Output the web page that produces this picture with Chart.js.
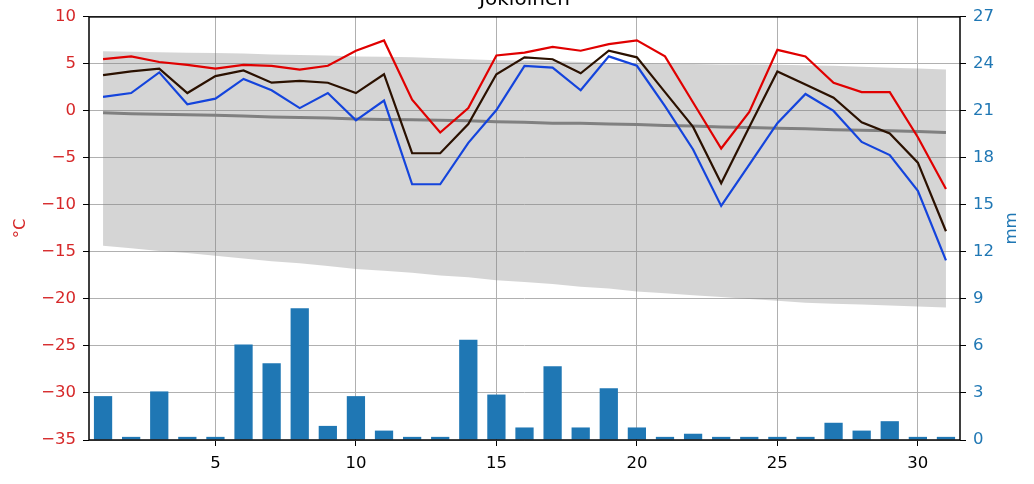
<!DOCTYPE html>
<html>
<head>
<meta charset="utf-8">
<script src="https://cdn.jsdelivr.net/npm/chart.js@4"></script>
<style>
  body { margin: 0; background: #fff; }
  canvas { display: block; }
</style>
</head>
<body>
<canvas id="weatherChart" width="1034" height="484"></canvas>
<script>
(function () {
    "use strict";

    var days = [];
    for (var d = 1; d <= 31; d++) days.push(d);
    var dayTicks = [5, 10, 15, 20, 25, 30];

    // temperatures, °C
    var tMax = [5.5, 5.8, 5.2, 4.9, 4.5, 4.9, 4.8, 4.4, 4.8, 6.4, 7.5, 1.2, -2.3, 0.3, 5.9, 6.2,
        6.8, 6.4, 7.1, 7.5, 5.8, 0.9, -4.0, -0.1, 6.5, 5.8, 3.0, 2.0, 2.0, -2.8, -8.3];
    var tMean = [3.8, 4.2, 4.5, 1.9, 3.7, 4.3, 3.0, 3.2, 3.0, 1.9, 3.9, -4.5, -4.5, -1.4, 3.9, 5.7,
        5.5, 4.0, 6.4, 5.7, 2.0, -1.7, -7.7, -1.7, 4.2, 2.8, 1.4, -1.2, -2.4, -5.5, -12.8];
    var tMin = [1.5, 1.9, 4.1, 0.7, 1.3, 3.4, 2.2, 0.3, 1.9, -1.0, 1.1, -7.8, -7.8, -3.4, 0.1, 4.8,
        4.6, 2.2, 5.8, 4.8, 0.5, -4.1, -10.1, -5.7, -1.3, 1.8, 0.0, -3.3, -4.7, -8.5, -15.9];
    var tNormal = [-0.2, -0.3, -0.35, -0.4, -0.45, -0.55, -0.65, -0.7, -0.75, -0.85, -0.9, -0.95,
        -1.0, -1.05, -1.15, -1.2, -1.3, -1.3, -1.4, -1.45, -1.55, -1.6, -1.7, -1.75, -1.85, -1.9,
        -2.0, -2.05, -2.1, -2.2, -2.3];
    var bandHigh = [6.35, 6.3, 6.25, 6.2, 6.15, 6.1, 6.0, 5.95, 5.9, 5.8, 5.75, 5.7, 5.6, 5.5, 5.4,
        5.35, 5.3, 5.2, 5.1, 5.05, 5.0, 5.0, 4.95, 4.95, 4.9, 4.85, 4.8, 4.7, 4.6, 4.5, 4.4];
    var bandLow = [-14.35, -14.6, -14.9, -15.1, -15.4, -15.7, -16.0, -16.2, -16.5, -16.8, -17.0,
        -17.2, -17.5, -17.7, -18.0, -18.2, -18.4, -18.7, -18.9, -19.2, -19.4, -19.6, -19.8, -20.0,
        -20.2, -20.4, -20.5, -20.6, -20.7, -20.8, -20.9];

    // precipitation, mm
    var rain = [2.8, 0.2, 3.1, 0.2, 0.2, 6.1, 4.9, 8.4, 0.9, 2.8, 0.6, 0.2, 0.2, 6.4, 2.9, 0.8,
        4.7, 0.8, 3.3, 0.8, 0.2, 0.4, 0.2, 0.2, 0.2, 0.2, 1.1, 0.6, 1.2, 0.2, 0.2];

    var FONT = '"DejaVu Sans", sans-serif';
    var RED = "#d62728";
    var BLUE = "#1f77b4";
    var GRID = "#b0b0b0";

    function minus(v) {
        return v < 0 ? "\u2212" + Math.abs(v) : String(v);
    }

    // frame, title and right axis label
    var decor = {
        id: "decor",
        afterDatasetsDraw: function (chart) {
            var a = chart.chartArea;
            var ctx = chart.ctx;
            ctx.save();
            ctx.strokeStyle = "#000";
            ctx.lineWidth = 1.5;
            ctx.strokeRect(a.left, a.top, a.right - a.left, a.bottom - a.top);
            ctx.restore();
        },
        afterDraw: function (chart) {
            var a = chart.chartArea;
            var ctx = chart.ctx;
            ctx.save();
            ctx.fillStyle = "#000";
            ctx.font = "20px " + FONT;
            ctx.textAlign = "center";
            ctx.textBaseline = "alphabetic";
            ctx.fillText("Jokioinen", (a.left + a.right) / 2, 5);

            ctx.translate(1012, (a.top + a.bottom) / 2);
            ctx.rotate(-Math.PI / 2);
            ctx.fillStyle = BLUE;
            ctx.font = "16.5px " + FONT;
            ctx.textBaseline = "middle";
            ctx.fillText("mm", 0, 0);
            ctx.restore();
        }
    };

    function lineSet(label, data, color, width, order) {
        return {
            type: "line",
            label: label,
            data: data,
            yAxisID: "y",
            borderColor: color,
            borderWidth: width,
            pointRadius: 0,
            tension: 0,
            fill: false,
            order: order
        };
    }

    var ctx = document.getElementById("weatherChart").getContext("2d");
    new Chart(ctx, {
        type: "bar",
        data: {
            labels: days,
            datasets: [
                {
                    type: "line",
                    data: bandLow,
                    yAxisID: "y",
                    borderColor: "transparent",
                    borderWidth: 0,
                    pointRadius: 0,
                    fill: false,
                    order: 20
                },
                {
                    type: "line",
                    data: bandHigh,
                    yAxisID: "y",
                    borderColor: "transparent",
                    borderWidth: 0,
                    pointRadius: 0,
                    backgroundColor: "rgba(128,128,128,0.33)",
                    fill: "-1",
                    order: 19
                },
                lineSet("normal", tNormal, "#808080", 3, 5),
                {
                    type: "bar",
                    data: rain,
                    yAxisID: "y2",
                    backgroundColor: BLUE,
                    categoryPercentage: 1,
                    barPercentage: 0.65,
                    order: 6
                },
                lineSet("max", tMax, "#e00000", 2.2, 3),
                lineSet("mean", tMean, "#2b1100", 2.2, 2),
                lineSet("min", tMin, "#1444dc", 2.2, 1)
            ]
        },
        options: {
            responsive: false,
            animation: false,
            layout: { padding: { top: 13, left: 0, right: 0, bottom: 0 } },
            plugins: {
                legend: { display: false },
                tooltip: { enabled: false },
                title: { display: false }
            },
            scales: {
                x: {
                    type: "linear",
                    min: 0.5,
                    max: 31.5,
                    offset: false,
                    afterBuildTicks: function (scale) {
                        scale.ticks = dayTicks.map(function (v) { return { value: v }; });
                    },
                    afterFit: function (scale) { scale.height = 44; },
                    grid: { color: GRID, lineWidth: 1, offset: false, tickColor: "#000", tickLength: 6 },
                    border: { display: false },
                    ticks: { color: "#000", font: { family: FONT, size: 16.5 }, padding: 8, maxRotation: 0 }
                },
                y: {
                    position: "left",
                    min: -35,
                    max: 10,
                    afterFit: function (scale) { scale.width = 89; },
                    grid: { color: GRID, lineWidth: 1, tickColor: "#000", tickLength: 6 },
                    border: { display: false },
                    ticks: {
                        stepSize: 5,
                        color: RED,
                        padding: 7,
                        font: { family: FONT, size: 16.5 },
                        callback: function (v) { return minus(v); }
                    },
                    title: {
                        display: true,
                        text: "°C",
                        color: RED,
                        font: { family: FONT, size: 16.5 },
                        padding: { top: 11, bottom: 0 }
                    }
                },
                y2: {
                    position: "right",
                    min: 0,
                    max: 27,
                    afterFit: function (scale) { scale.width = 74; },
                    grid: { drawOnChartArea: false, tickColor: "#000", tickLength: 6 },
                    border: { display: false },
                    ticks: {
                        stepSize: 3,
                        color: BLUE,
                        padding: 7,
                        font: { family: FONT, size: 16.5 }
                    }
                }
            }
        },
        plugins: [decor]
    });
})();
</script>
</body>
</html>
